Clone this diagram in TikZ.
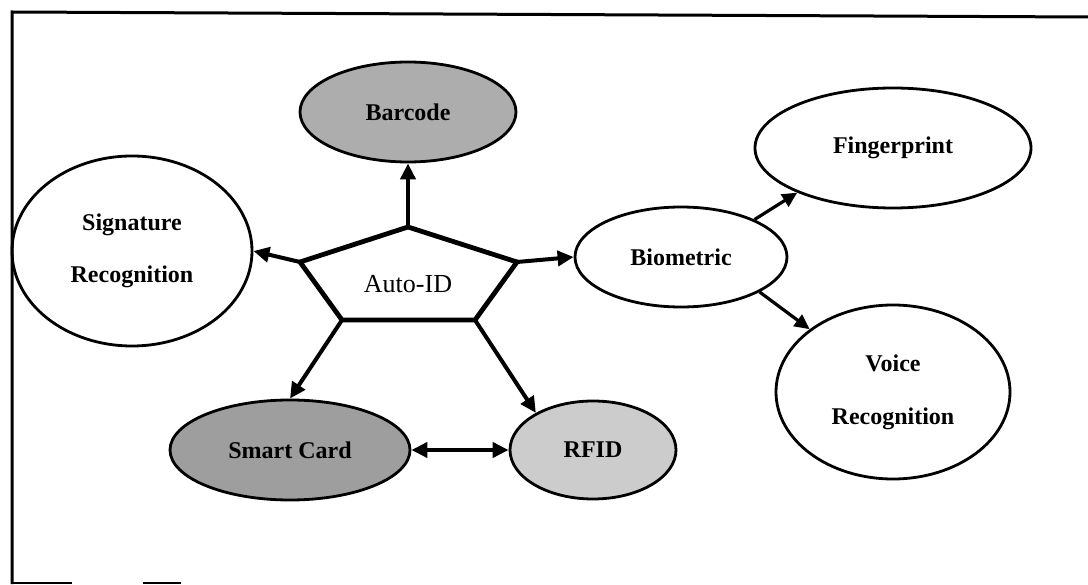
\documentclass[tikz,border=0pt]{standalone}
\usepackage{fontspec}
\setmainfont{Liberation Serif}
\usetikzlibrary{shapes.geometric,arrows.meta}
\begin{document}
\begin{tikzpicture}[x=1pt,y=-1pt,
  bubble/.style={ellipse,draw=black,line width=2.8pt,inner sep=0pt,
    font=\fontsize{24}{28}\selectfont\bfseries,align=center},
  link/.style={line width=4pt,-{Triangle[length=16pt,width=15pt]}},
  twoway/.style={line width=4pt,{Triangle[length=16pt,width=15pt]}-{Triangle[length=16pt,width=15pt]}}]
  \useasboundingbox (0,0) rectangle (1088,585);

  % frame
  \draw[line width=3pt] (12,584) -- (12,12) -- (1088,17);
  \draw[line width=2pt] (12,583) -- (72,583);
  \draw[line width=2pt] (143,583) -- (181,583);

  % outer nodes
  \node[bubble,fill=black!32,minimum width=216pt,minimum height=100pt] (bc) at (408,112) {Barcode};
  \node[bubble,minimum width=240pt,minimum height=190pt] (sig) at (132,251) {Signature\\[24pt]Recognition};
  \node[bubble,minimum width=212pt,minimum height=100pt] (bio) at (681,257) {Biometric};
  \node[bubble,minimum width=276pt,minimum height=120pt] (fp) at (893,148) {Fingerprint};
  \node[bubble,minimum width=234pt,minimum height=174pt] (vr) at (893,392) {Voice\\[25pt]Recognition};
  \node[bubble,fill=black!38,minimum width=240pt,minimum height=100pt] (sc) at (290,450) {Smart Card};
  \node[bubble,fill=black!20,minimum width=166pt,minimum height=98pt] (rfid) at (593,450) {RFID};

  % central pentagon
  \coordinate (p1) at (408,227);
  \coordinate (p2) at (300,262);
  \coordinate (p3) at (517,262);
  \coordinate (p4) at (342,320);
  \coordinate (p5) at (475,320);
  \draw[line width=4.8pt,line join=miter] (p1) -- (p3) -- (p5) -- (p4) -- (p2) -- cycle;
  \node[font=\fontsize{26}{30}\selectfont] (auto) at (408,284) {Auto-ID};

  % connectors
  \draw[link] (p1) -- (bc.south);
  \draw[link] (p2) -- (sig.east);
  \draw[link] (p3) -- (bio.west);
  \draw[link] (p4) -- (sc.north);
  \draw[link] (p5) -- (rfid.147);
  \draw[twoway] (sc.east) -- (rfid.west);
  \draw[line width=3.2pt,-{Triangle[length=15pt,width=14pt]}] (bio.27) -- (fp.205);
  \draw[line width=3.2pt,-{Triangle[length=15pt,width=14pt]}] (bio.-24) -- (vr.143);
\end{tikzpicture}
\end{document}
